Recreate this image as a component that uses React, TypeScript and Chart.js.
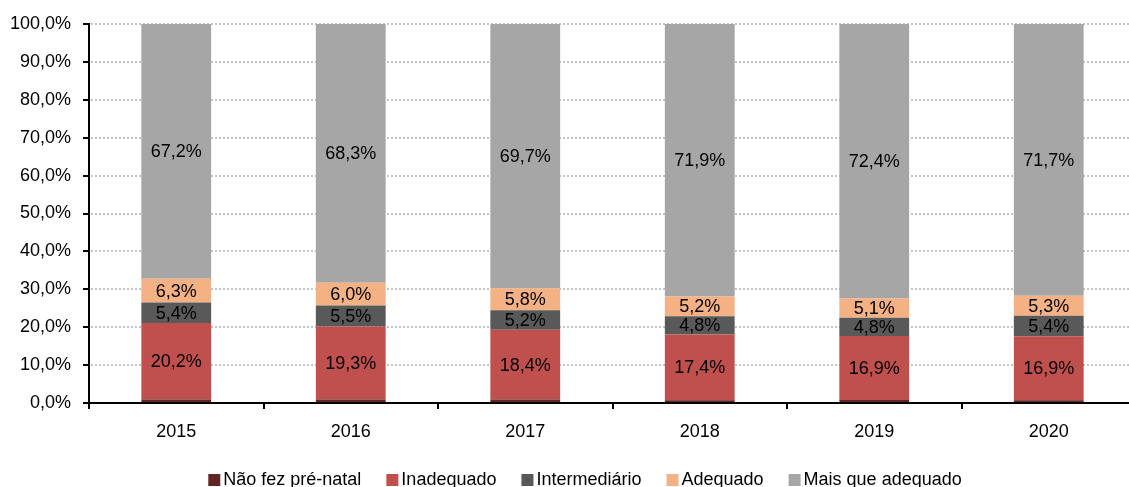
import React, { useEffect, useRef } from 'react';
import { Chart, registerables } from 'chart.js';

Chart.register(...registerables);

const categories = ['2015', '2016', '2017', '2018', '2019', '2020'];
const naoFezPreNatal = [0.9, 0.9, 0.9, 0.7, 0.8, 0.7];
const inadequado = [20.2, 19.3, 18.4, 17.4, 16.9, 16.9];
const intermediario = [5.4, 5.5, 5.2, 4.8, 4.8, 5.4];
const adequado = [6.3, 6.0, 5.8, 5.2, 5.1, 5.3];
const maisQueAdequado = [67.2, 68.3, 69.7, 71.9, 72.4, 71.7];
const seriesNames = ['Não fez pré-natal', 'Inadequado', 'Intermediário', 'Adequado', 'Mais que adequado'];
const seriesColors = ['#632523', '#C0504D', '#595959', '#F4B183', '#A6A6A6'];
const seriesValues = [naoFezPreNatal, inadequado, intermediario, adequado, maisQueAdequado];
const labeledSeries = [false, true, true, true, true];

const FONT = "'Liberation Sans', Arial, sans-serif";
const fmt = (v: number) => v.toFixed(1).replace('.', ',') + '%';

const gridPlugin = {
  id: 'dottedGrid',
  beforeDatasetsDraw(chart: any) {
    const { ctx, chartArea, scales } = chart;
    const y = scales.y;
    ctx.save();
    ctx.strokeStyle = '#c4c4c4';
    ctx.lineWidth = 2;
    ctx.setLineDash([2, 2]);
    y.ticks.forEach((t: any) => {
      if (t.value === 0) return;
      const py = Math.round(y.getPixelForValue(t.value));
      ctx.beginPath();
      ctx.moveTo(chartArea.left + 2, py);
      ctx.lineTo(chartArea.right, py);
      ctx.stroke();
    });
    ctx.restore();
  },
};

const labelPlugin = {
  id: 'segLabels',
  afterDatasetsDraw(chart: any) {
    const { ctx } = chart;
    ctx.save();
    ctx.font = `18px ${FONT}`;
    ctx.fillStyle = '#000';
    ctx.textAlign = 'center';
    ctx.textBaseline = 'middle';
    chart.data.datasets.forEach((ds: any, di: number) => {
      if (!labeledSeries[di]) return;
      const meta = chart.getDatasetMeta(di);
      meta.data.forEach((el: any, i: number) => {
        const v = ds.data[i];
        const cy = (el.y + el.base) / 2;
        ctx.fillText(fmt(v), el.x, cy + 1);
      });
    });
    ctx.restore();
  },
};

const legendPlugin = {
  id: 'customLegend',
  afterDraw(chart: any) {
    const { ctx } = chart;
    ctx.save();
    ctx.font = `18px ${FONT}`;
    ctx.textBaseline = 'alphabetic';
    ctx.textAlign = 'left';
    const box = 12;
    const textOff = 15;
    const gap = 25;
    const widths = seriesNames.map((n) => ctx.measureText(n).width);
    const total = widths.reduce((a, w) => a + textOff + w, 0) + gap * (seriesNames.length - 1);
    let x = 585 - total / 2;
    const baseline = 485;
    seriesNames.forEach((n, i) => {
      ctx.fillStyle = seriesColors[i];
      ctx.fillRect(x, baseline - 11, box, box);
      ctx.fillStyle = '#000';
      ctx.fillText(n, x + textOff, baseline);
      x += textOff + widths[i] + gap;
    });
    ctx.restore();
  },
};

export default function App() {
  const ref = useRef<HTMLCanvasElement | null>(null);

  useEffect(() => {
    if (!ref.current) return;
    const chart = new Chart(ref.current, {
      type: 'bar',
      data: {
        labels: categories,
        datasets: seriesNames.map((name, i) => ({
          label: name,
          data: seriesValues[i],
          backgroundColor: seriesColors[i],
          borderWidth: 0,
          barPercentage: 0.4,
          categoryPercentage: 1,
        })),
      },
      options: {
        responsive: false,
        animation: false,
        devicePixelRatio: 1,
        layout: { padding: { top: 24, right: 4, bottom: 0, left: 0 } },
        plugins: {
          legend: { display: false },
          tooltip: { enabled: false },
        },
        scales: {
          x: {
            stacked: true,
            grid: {
              display: true,
              drawOnChartArea: false,
              drawTicks: true,
              tickLength: 6,
              color: '#000',
              lineWidth: 2,
              offset: true,
            },
            border: { display: true, color: '#000', width: 2 },
            ticks: { font: { family: FONT, size: 18 }, color: '#000', padding: 12 },
            afterFit: (s: any) => {
              s.height = 84;
            },
          },
          y: {
            stacked: true,
            min: 0,
            max: 100,
            ticks: {
              stepSize: 10,
              font: { family: FONT, size: 18 },
              color: '#000',
              padding: 12,
              callback: (v: any) => fmt(Number(v)),
            },
            grid: {
              display: true,
              drawOnChartArea: false,
              drawTicks: true,
              tickLength: 6,
              color: '#000',
              lineWidth: 2,
            },
            border: { display: true, color: '#000', width: 2 },
            afterFit: (s: any) => {
              s.width = 89;
            },
          },
        },
      },
      plugins: [gridPlugin, labelPlugin, legendPlugin],
    });
    return () => chart.destroy();
  }, []);

  return (
    <div style={{ position: 'fixed', left: 0, top: 0, width: 1129, height: 487, overflow: 'hidden', background: '#fff' }}>
      <canvas ref={ref} width={1140} height={487} style={{ display: 'block', width: 1140, height: 487 }} />
    </div>
  );
}
